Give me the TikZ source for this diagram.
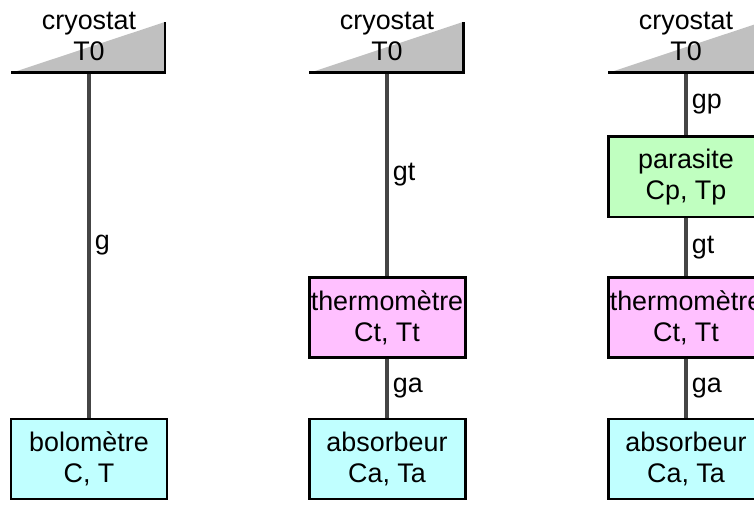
\documentclass[tikz,border=0pt]{standalone}
\usepackage{fontspec}
\setmainfont{Liberation Sans}
\usetikzlibrary{positioning}
\definecolor{cryogray}{HTML}{C0C0C0}
\definecolor{stemgray}{HTML}{454545}
\definecolor{boxcyan}{HTML}{C0FFFF}
\definecolor{boxpink}{HTML}{FFC0FF}
\definecolor{boxgreen}{HTML}{C0FFC0}
\tikzset{
  % blocs thermiques
  bloc/.style={draw=black,line width=1.7pt,minimum width=3.12cm,minimum height=1.6cm,
               inner sep=0pt,align=center},
  abs/.style={bloc,fill=boxcyan},
  thermo/.style={bloc,fill=boxpink},
  para/.style={bloc,fill=boxgreen},
  % liens
  lien/.style={draw=stemgray,line width=2.8pt},
  gl/.style={right,inner sep=2pt},
  socle/.style={draw=black,line width=1.7pt,line join=miter},
  ct/.style={align=center,inner sep=0pt},
}
\begin{document}
\begin{tikzpicture}[font=\fontsize{15.3}{17.6}\selectfont]
  \clip (0,0) rectangle (15.08,10.08);
  % cryostats
  \fill[cryogray] (0.22,8.62) -- (3.30,9.64) -- (3.30,8.62) -- cycle;
  \fill[cryogray] (6.18,8.62) -- (9.26,9.64) -- (9.26,8.62) -- cycle;
  \fill[cryogray] (12.16,8.62) -- (15.24,9.64) -- (15.24,8.62) -- cycle;
  \coordinate (s1) at (1.78,8.62);
  \coordinate (s2) at (7.74,8.62);
  \coordinate (s3) at (13.72,8.62);
  \node[ct] (c1) at (1.78,9.36) {cryostat\\T0};
  \node[ct] (c2) at (7.74,9.36) {cryostat\\T0};
  \node[ct] (c3) at (13.72,9.36) {cryostat\\T0};
  % blocs
  \node[abs] (bolo) at (1.78,0.9) {bolomètre\\C, T};
  \node[thermo] (th2) at (7.74,3.73) {thermomètre\\Ct, Tt};
  \node[abs] (ab2) at (7.74,0.9) {absorbeur\\Ca, Ta};
  \node[para] (pa3) at (13.72,6.54) {parasite\\Cp, Tp};
  \node[thermo] (th3) at (13.72,3.73) {thermomètre\\Ct, Tt};
  \node[abs] (ab3) at (13.72,0.9) {absorbeur\\Ca, Ta};
  % liens
  \draw[lien] (s1) -- node[gl] {g} (bolo);
  \draw[lien] (s2) -- node[gl] {gt} (th2);
  \draw[lien] (th2) -- node[gl] {ga} (ab2);
  \draw[lien] (s3) -- node[gl] {gp} (pa3);
  \draw[lien] (pa3) -- node[gl] {gt} (th3);
  \draw[lien] (th3) -- node[gl] {ga} (ab3);
  \draw[socle] (0.22,8.62) -- (3.30,8.62) -- (3.30,9.64);
  \draw[socle] (6.18,8.62) -- (9.26,8.62) -- (9.26,9.64);
  \draw[socle] (12.16,8.62) -- (15.24,8.62) -- (15.24,9.64);
\end{tikzpicture}
\end{document}
